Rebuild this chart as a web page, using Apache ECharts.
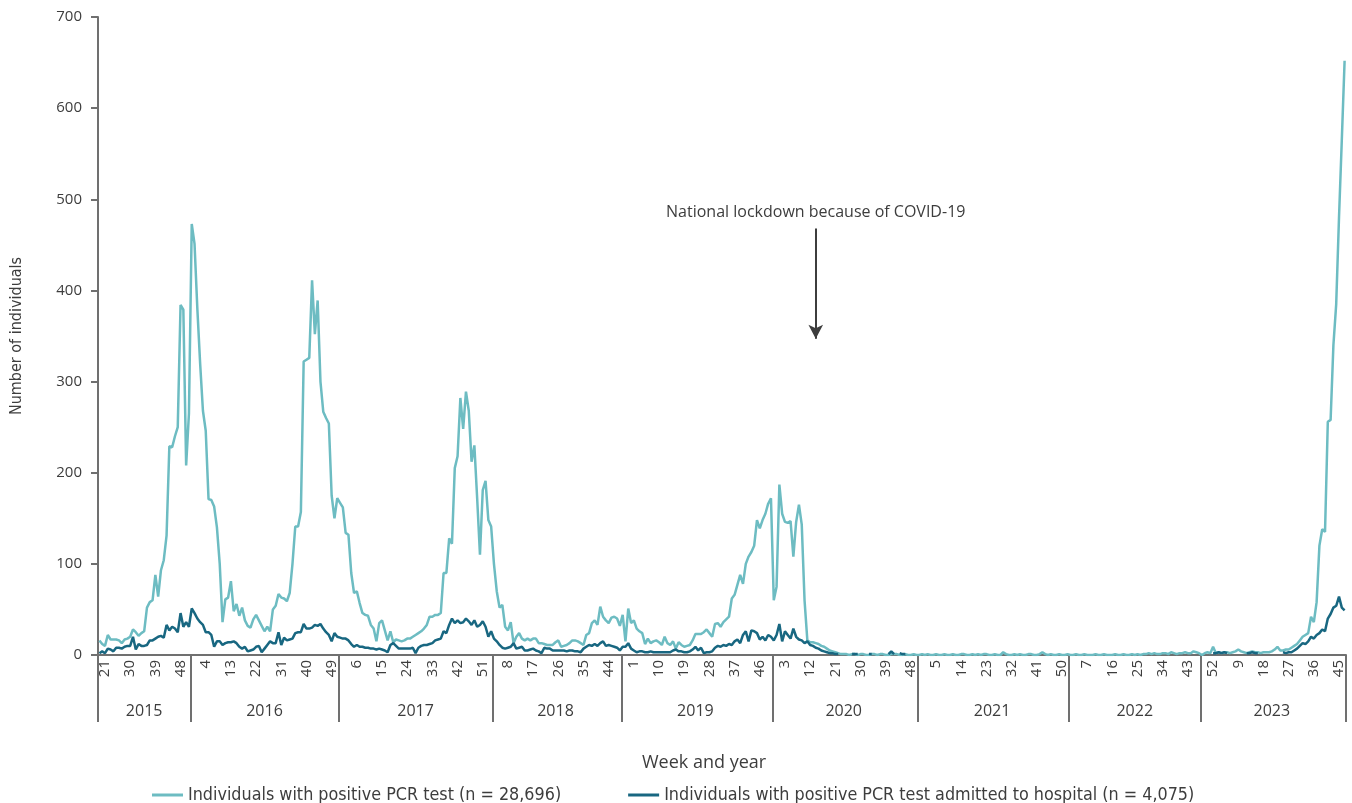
<!DOCTYPE html>
<html>
<head>
<meta charset="utf-8">
<title>RSV weekly cases</title>
<style>
  html, body { margin: 0; padding: 0; background: #fff; }
  #chart { width: 1352px; height: 803px; }
</style>
<script src="https://cdn.jsdelivr.net/npm/echarts@6/dist/echarts.min.js"></script>
</head>
<body>
<div id="chart"></div>
<script>
// NOTE - categories: weeks per year
const years = [2015, 2016, 2017, 2018, 2019, 2020, 2021, 2022, 2023]
const firstWeek = [19, 1, 1, 1, 1, 1, 1, 1, 1]
const lastWeek = [53, 52, 52, 52, 52, 52, 52, 52, 47]

// NOTE - year group on the second axis starts at these category indices
const yearGroupStart = [0, 33, 86, 141, 187, 241, 293, 347, 394]

// NOTE - individuals with positive PCR test
const positive2015 = [16, 12, 10, 22, 17, 17, 17, 16, 13, 17, 18, 20, 28, 25, 21, 24, 26, 52, 58, 60,
  88, 64, 93, 104, 131, 229, 228, 240, 250, 384, 379, 208, 265, 473, 451]
const positive2016 = [380, 320, 268, 246, 171, 170, 163, 140, 100, 36, 61, 63, 81, 48, 56, 43, 52, 38, 32, 30,
  39, 44, 38, 32, 26, 31, 26, 50, 54, 67, 63, 62, 59, 68, 100, 141, 141, 157, 322, 324,
  326, 411, 352, 389, 300, 267, 260, 254, 175, 150, 172, 167]
const positive2017 = [162, 134, 132, 90, 68, 70, 57, 46, 44, 43, 33, 29, 15, 35, 38, 27, 16, 26, 14, 17,
  16, 15, 16, 18, 18, 20, 22, 24, 26, 29, 33, 42, 42, 44, 44, 46, 90, 90, 128, 122,
  205, 218, 282, 248, 289, 268, 212, 230, 172, 110, 181, 191]
const positive2018 = [148, 141, 100, 70, 52, 55, 31, 27, 36, 13, 20, 24, 18, 16, 18, 16, 18, 18, 13, 13,
  12, 11, 11, 11, 14, 16, 9, 10, 11, 13, 16, 16, 15, 13, 11, 22, 24, 35, 38, 33,
  53, 42, 38, 35, 41, 42, 40, 32, 44, 15, 51, 35]
const positive2019 = [38, 29, 26, 24, 12, 18, 13, 15, 16, 14, 11, 20, 13, 11, 15, 7, 14, 11, 9, 10,
  11, 16, 23, 23, 23, 25, 28, 24, 20, 34, 35, 31, 36, 39, 42, 62, 66, 77, 88, 78,
  100, 108, 113, 120, 148, 139, 148, 155, 166, 172, 60, 75]
const positive2020 = [187, 155, 146, 145, 147, 108, 146, 165, 143, 60, 16, 14, 14, 13, 12, 10, 9, 7, 5, 4,
  3, 2, 1, 1, 1, 0, 1, 1, 0, 1, 1, 0, 0, 1, 1, 0, 1, 1, 0, 0,
  1, 1, 1, 0, 0, 1, 0, 0, 1, 0, 0, 1]
const positive2021 = [0, 1, 0, 0, 1, 0, 0, 1, 0, 0, 1, 0, 0, 1, 1, 0, 0, 1, 0, 1,
  0, 1, 1, 0, 0, 1, 0, 0, 3, 1, 0, 0, 1, 0, 1, 0, 0, 1, 1, 0,
  0, 1, 3, 1, 0, 1, 0, 0, 1, 0, 0, 1]
const positive2022 = [0, 0, 1, 0, 0, 1, 0, 0, 0, 1, 0, 0, 1, 0, 0, 0, 1, 0, 0, 1,
  0, 0, 1, 0, 1, 0, 1, 1, 2, 1, 2, 1, 1, 2, 2, 1, 3, 2, 1, 2,
  2, 3, 2, 2, 4, 3, 2, 0, 2, 3, 2, 9]
const positive2023 = [2, 3, 2, 3, 3, 2, 3, 4, 6, 4, 3, 2, 3, 4, 3, 3, 2, 3, 3, 3,
  4, 6, 9, 5, 5, 6, 6, 8, 10, 12, 16, 20, 22, 24, 42, 36, 58, 120, 138, 135,
  256, 258, 340, 385, 480, 565, 652]

// NOTE - individuals with positive PCR test admitted to hospital
const hospital2015 = [2, 4, 2, 7, 6, 4, 8, 8, 7, 9, 10, 10, 20, 6, 12, 10, 10, 11, 16, 16,
  18, 20, 21, 19, 33, 27, 31, 29, 25, 46, 31, 36, 31, 51, 46]
const hospital2016 = [40, 36, 33, 25, 25, 22, 9, 15, 15, 11, 13, 14, 14, 15, 13, 9, 7, 9, 4, 5,
  6, 9, 10, 3, 7, 11, 15, 13, 13, 25, 11, 19, 16, 17, 18, 24, 25, 25, 34, 29,
  29, 30, 33, 32, 34, 29, 25, 22, 15, 24, 20, 19]
const hospital2017 = [18, 18, 16, 12, 9, 11, 9, 9, 8, 8, 7, 7, 6, 7, 6, 5, 3, 11, 13, 10,
  7, 7, 7, 7, 7, 8, 2, 8, 10, 11, 11, 12, 13, 16, 17, 18, 26, 24, 33, 40,
  35, 38, 35, 36, 40, 37, 33, 38, 31, 33, 37, 31]
const hospital2018 = [20, 26, 18, 15, 11, 8, 7, 8, 9, 13, 7, 8, 9, 5, 5, 6, 7, 5, 4, 2,
  8, 7, 7, 5, 5, 5, 5, 5, 4, 5, 5, 4, 4, 3, 7, 9, 11, 10, 12, 10,
  13, 15, 10, 11, 10, 9, 8, 5, 9, 9, 13, 7]
const hospital2019 = [5, 3, 4, 4, 3, 3, 4, 3, 3, 3, 3, 3, 3, 3, 5, 6, 4, 4, 3, 3,
  4, 6, 9, 5, 8, 2, 3, 3, 4, 8, 10, 9, 11, 10, 12, 11, 15, 17, 13, 22,
  26, 15, 27, 26, 24, 17, 20, 16, 22, 20, 16, 22]
const hospital2020 = [34, 15, 26, 22, 18, 29, 20, 17, 16, 13, 15, 11, 10, 8, 7, 5, 4, 3, 2, 2,
  1, 1, null, null, null, null, 1, 1, 1, null, null, null, 1, 1, null, null, null, null, null, 1,
  4, 1, null, 2, 1, 1, null, null, null, null, null, null]
const hospital2021 = [null, null, null, null, null, null, null, null, null, null, null, null, null,
  null, null, null, null, null, null, null, null, null, null, null, null, null,
  null, null, null, null, null, null, null, null, null, null, null, null, null,
  null, null, null, null, null, null, null, null, null, null, null, null, null]
const hospital2022 = [null, null, null, null, null, null, null, null, null, null, null, null, null,
  null, null, null, null, null, null, null, null, null, null, null, null, null,
  null, null, null, null, null, null, null, null, null, null, null, null, null,
  null, null, null, null, null, null, null, null, null, null, null, null, 2]
const hospital2023 = [2, 3, 2, 3, 2, null, null, null, null, null, null, 2, 2, 3, 2, 2, null, null, null, null,
  null, null, null, null, 3, 2, 3, 3, 5, 7, 10, 13, 12, 15, 20, 18, 22, 24, 28, 26,
  40, 45, 52, 54, 64, 52, 49]

const positive = [].concat(positive2015, positive2016, positive2017, positive2018, positive2019,
  positive2020, positive2021, positive2022, positive2023)
const hospital = [].concat(hospital2015, hospital2016, hospital2017, hospital2018, hospital2019,
  hospital2020, hospital2021, hospital2022, hospital2023)

const lockdownWeek = '2020-14'
const positiveName = 'Individuals with positive PCR test (n = 28,696)'
const hospitalName = 'Individuals with positive PCR test admitted to hospital (n = 4,075)'

// NOTE - build category list and year-group labels
const categories = []
years.forEach((y, k) => {
  for (let w = firstWeek[k]; w <= lastWeek[k]; w++) categories.push(`${y}-${w}`)
})
const yearOfCategory = categories.map((c, i) => {
  let g = 0
  yearGroupStart.forEach((s, k) => { if (i >= s) g = k })
  return String(years[g])
})
const yearMid = yearGroupStart.map((s, k) => {
  const e = k + 1 < yearGroupStart.length ? yearGroupStart[k + 1] : categories.length
  return Math.floor((s + e - 1) / 2)
})

const textColor = '#3d3d3d'
const axisColor = '#707070'
const teal = '#6dbcc2'
const dark = '#186781'
const numFont = "'Open Sans', sans-serif"
const narrowFont = "'Liberation Sans Narrow', 'DejaVu Sans Condensed', sans-serif"

const myChart = echarts.init(document.querySelector('#chart'))
const option = {
  animation: false,
  title: {
    text: 'Week and year',
    left: 637,
    top: 749,
    textStyle: { fontSize: 18, fontWeight: 'normal', color: textColor, fontFamily: numFont }
  },
  grid: { left: 98, right: 6, top: 17, bottom: 148, containLabel: false },
  legend: {
    left: 147,
    top: 781,
    icon: 'rect',
    itemWidth: 31,
    itemHeight: 3,
    itemGap: 67,
    textStyle: { fontSize: 17.8, color: textColor, fontFamily: narrowFont },
    data: [positiveName, hospitalName]
  },
  xAxis: [
    {
      type: 'category',
      position: 'bottom',
      data: categories,
      axisLine: { show: true, lineStyle: { color: axisColor, width: 2 } },
      axisTick: { show: false },
      axisLabel: {
        interval: (index) => index % 9 === 2,
        rotate: 90,
        margin: 5,
        fontSize: 15,
        color: textColor,
        fontFamily: numFont,
        formatter: (v) => v.split('-')[1]
      }
    },
    {
      type: 'category',
      position: 'bottom',
      data: yearOfCategory,
      axisLine: { show: false },
      axisTick: {
        show: true,
        interval: (index) => yearGroupStart.includes(index),
        length: 67,
        lineStyle: { color: axisColor, width: 2 }
      },
      axisLabel: {
        interval: (index) => yearMid.includes(index),
        margin: 48,
        fontSize: 16,
        color: textColor,
        fontFamily: numFont
      }
    }
  ],
  yAxis: {
    type: 'value',
    min: 0,
    max: 700,
    interval: 100,
    name: 'Number of individuals',
    nameLocation: 'middle',
    nameGap: 73,
    nameTextStyle: { fontSize: 16, color: textColor, fontFamily: narrowFont },
    axisLine: { show: true, lineStyle: { color: axisColor, width: 2 } },
    axisTick: { show: true, length: 7, lineStyle: { color: axisColor, width: 2 } },
    axisLabel: { margin: 16, fontSize: 15, color: textColor, fontFamily: numFont },
    splitLine: { show: false }
  },
  series: [
    {
      name: positiveName,
      type: 'line',
      data: positive,
      symbol: 'none',
      lineStyle: { width: 2.5, color: teal },
      itemStyle: { color: teal },
      emphasis: { disabled: true },
      markLine: {
        silent: true,
        symbol: ['none', 'arrow'],
        symbolSize: [11, 14],
        lineStyle: { color: '#3d3d3d', width: 2, type: 'solid' },
        label: {
          show: true,
          position: 'start',
          distance: 8,
          formatter: 'National lockdown because of COVID-19',
          fontSize: 16,
          color: textColor,
          fontFamily: numFont
        },
        data: [[{ coord: [lockdownWeek, 468] }, { coord: [lockdownWeek, 347] }]]
      }
    },
    {
      name: hospitalName,
      type: 'line',
      data: hospital,
      symbol: 'none',
      lineStyle: { width: 2.5, color: dark },
      itemStyle: { color: dark },
      emphasis: { disabled: true }
    }
  ]
}
myChart.setOption(option)
</script>
</body>
</html>
